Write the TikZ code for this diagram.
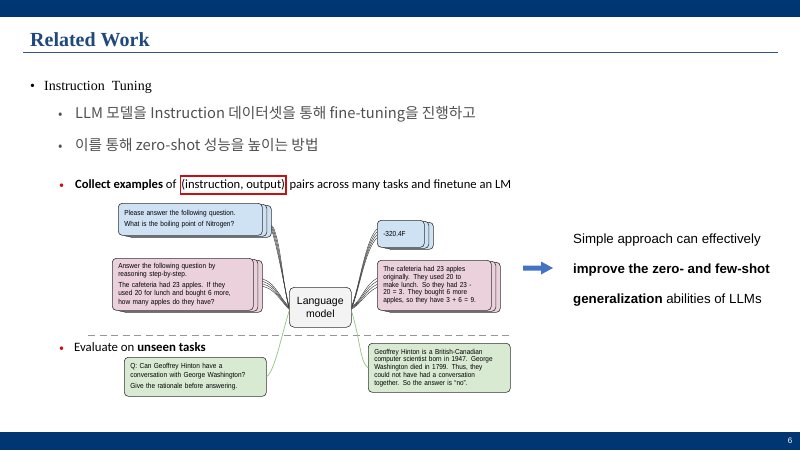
\documentclass[tikz,border=0pt]{standalone}
\usepackage{fontspec}
\setmainfont{Liberation Serif}
\newfontfamily\krfont{Noto Sans CJK KR}
\newfontfamily\calfont{Carlito}
\newfontfamily\arfont{Liberation Sans}
\newfontfamily\cardfont[FakeStretch=0.89]{Liberation Sans}
\usetikzlibrary{shadows,calc,backgrounds}
\definecolor{navy}{RGB}{0,55,115}
\definecolor{titleblue}{RGB}{31,73,125}
\definecolor{ruleblue}{RGB}{47,85,151}
\definecolor{krgray}{RGB}{80,80,80}
\definecolor{redbox}{RGB}{200,16,16}
\definecolor{cardline}{RGB}{51,51,51}
\definecolor{bluefill}{RGB}{207,226,243}
\definecolor{pinkfill}{RGB}{234,209,220}
\definecolor{greenfill}{RGB}{217,234,211}
\definecolor{lmfill}{RGB}{243,243,243}
\definecolor{connline}{RGB}{60,60,60}
\definecolor{greenline}{RGB}{147,196,125}
\definecolor{arrowblue}{RGB}{68,114,196}
\definecolor{dashgray}{RGB}{150,150,150}
\tikzset{
  card/.style={draw=cardline, line width=0.6pt, rounded corners=4pt, anchor=north west,
    align=left, font=\cardfont\fontsize{7.3}{8.2}\selectfont, inner xsep=6pt, inner ysep=3pt},
  cardstack/.style={
    copy shadow={shadow xshift=9pt, shadow yshift=-2pt, fill=#1, draw=cardline, line width=0.6pt},
    copy shadow={shadow xshift=4.5pt, shadow yshift=-1pt, fill=#1, draw=cardline, line width=0.6pt},
    fill=#1},
  conn/.style={draw=connline, line width=0.45pt},
  gconn/.style={draw=greenline, line width=0.7pt},
  txt/.style={anchor=base west, inner sep=0pt},
  caltxt/.style={txt, font=\calfont\fontsize{12.6}{14}\selectfont},
}
\begin{document}
\begin{tikzpicture}[x=1pt,y=-1pt]
\useasboundingbox (0,0) rectangle (800,450);
% bars
\fill[navy] (0,0) rectangle (800,17);
\fill[navy] (0,432) rectangle (800,450);
\node[anchor=center, text=white, font=\arfont\fontsize{8}{9}\selectfont, inner sep=0pt] (pg) at (790,441) {6};
% title
\node[txt, text=titleblue, font=\bfseries\fontsize{20}{22}\selectfont] (title) at (30,46.5) {Related Work};
\draw[ruleblue, line width=1.4pt] (23,52.5) -- (778,52.5);
% bullets
\node[txt, font=\fontsize{14}{16}\selectfont] (b1) at (30,90) {•};
\node[txt, font=\fontsize{14}{16}\selectfont] (t1) at (44,90) {Instruction\ \ Tuning};
\node[txt, text=krgray, font=\krfont\fontsize{13}{15}\selectfont] (b2) at (58,118.5) {•};
\node[txt, text=krgray, font=\krfont\fontsize{14.7}{16}\selectfont] (t2) at (75,118.5) {LLM 모델을 Instruction 데이터셋을 통해 fine-tuning을 진행하고};
\node[txt, text=krgray, font=\krfont\fontsize{13}{15}\selectfont] (b3) at (58,150.5) {•};
\node[txt, text=krgray, font=\krfont\fontsize{14.7}{16}\selectfont] (t3) at (75,150.5) {이를 통해 zero-shot 성능을 높이는 방법};
\node[txt, text=redbox, font=\calfont\fontsize{10}{12}\selectfont] (b4) at (59,188) {•};
\node[caltxt] (t4a) at (75,188.5) {\textbf{Collect examples} of};
\node[caltxt, draw=redbox, line width=1.5pt, inner xsep=1pt, inner ysep=3.5pt, xshift=3pt] (rb) at (t4a.base east) {(instruction, output)};
\node[caltxt, xshift=2.5pt] (t4b) at (rb.base east) {pairs across many tasks and finetune an LM};
\node[txt, text=redbox, font=\calfont\fontsize{10}{12}\selectfont] (b5) at (59,351) {•};
\node[txt, font=\calfont\fontsize{12.8}{14}\selectfont] (t5) at (74,351.5) {Evaluate on \textbf{unseen tasks}};
% dashed separator
\draw[dashgray, line width=1pt, dash pattern=on 7pt off 4.5pt] (88,335) -- (512,335);
% language model
\node[draw=cardline, line width=0.6pt, rounded corners=5pt, fill=lmfill, anchor=north west,
  minimum width=62pt, minimum height=40pt, align=center, inner sep=2pt,
  font=\arfont\fontsize{10.5}{13}\selectfont] (lm) at (289,287) {Language\\model};
% cards
\node[card, cardstack=bluefill, text width=132pt, minimum height=32pt] (bq) at (118,203)
  {Please answer the following question.\\[3pt]What is the boiling point of Nitrogen?};
\node[card, cardstack=pinkfill, text width=129pt, minimum height=52pt] (pq) at (112,258)
  {Answer the following question by\\reasoning step-by-step.\\[3pt]The cafeteria had 23 apples. If they\\used 20 for lunch and bought 6 more,\\how many apples do they have?};
\node[card, cardstack=bluefill, text width=35pt, minimum height=27pt] (ba) at (377,220) {-320.4F};
\node[card, cardstack=pinkfill, text width=102pt, minimum height=50pt, font=\cardfont\fontsize{7.2}{7.7}\selectfont] (pa) at (377,260)
  {The cafeteria had 23 apples\\originally. They used 20 to\\make lunch. So they had 23 -\\20 = 3. They bought 6 more\\apples, so they have 3 + 6 = 9.};
\node[card, fill=greenfill, text width=130pt, minimum height=39pt] (gq) at (124,357)
  {Q: Can Geoffrey Hinton have a\\conversation with George Washington?\\[3pt]Give the rationale before answering.};
\node[card, fill=greenfill, text width=130pt, minimum height=49pt, font=\cardfont\fontsize{7.2}{7.7}\selectfont] (ga) at (368,343)
  {Geoffrey Hinton is a British-Canadian\\computer scientist born in 1947. George\\Washington died in 1799. Thus, they\\could not have had a conversation\\together. So the answer is “no”.};
% connectors
\begin{pgfonlayer}{background}
\foreach \i in {0,1,2,3}{
  \draw[conn] ($(bq.east)+(6+1.6*\i,2+2*\i)$) .. controls +(8,20) and +(-7,-30) .. ($(lm.west)+(0,-1+0.8*\i)$);
  \draw[conn] ($(pq.east)+(4,-6+2.5*\i)$) .. controls +(16,0) and +(-10,-10) .. ($(lm.west)+(0,-0.5+0.8*\i)$);
  \draw[conn] ($(lm.east)+(0,-1+0.8*\i)$) .. controls +(8,-20) and +(-12,12) .. ($(ba.west)+(0,-5+3*\i)$);
  \draw[conn] ($(lm.east)+(0,-0.5+0.8*\i)$) .. controls +(10,-6) and +(-12,6) .. ($(pa.west)+(0,-7+3*\i)$);
}
\end{pgfonlayer}
\draw[gconn] ($(lm.west)+(0,4)$) .. controls +(-9,30) and +(8,-6) .. (gq.east);
\draw[gconn] ($(lm.east)+(0,4)$) .. controls +(9,30) and +(-8,-6) .. (ga.west);
% arrow
\fill[arrowblue] (523,265.5) -- (541,265.5) -- (541,261.5) -- (553,268) -- (541,274.5) -- (541,270.5) -- (523,270.5) -- cycle;
% right text
\node[txt, font=\arfont\fontsize{13.3}{15}\selectfont] (r1) at (573,243) {Simple approach can effectively};
\node[txt, font=\arfont\bfseries\fontsize{13.3}{15}\selectfont] (r2) at (573,273) {improve the zero- and few-shot};
\node[txt, font=\arfont\fontsize{13.3}{15}\selectfont] (r3) at (573,303) {\textbf{generalization} abilities of LLMs};
\end{tikzpicture}
\end{document}
